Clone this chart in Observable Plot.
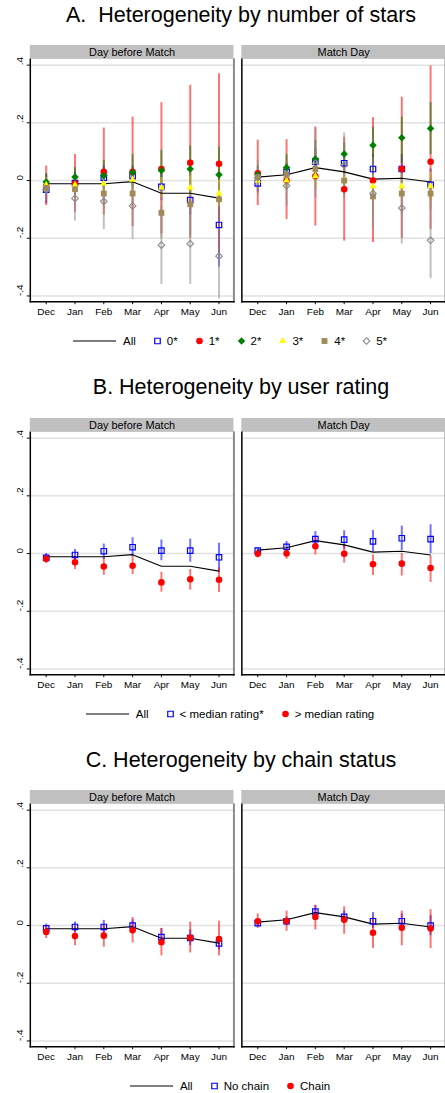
<!DOCTYPE html>
<html>
<head>
<meta charset="utf-8">
<script src="https://cdn.jsdelivr.net/npm/d3@7"></script>
<script src="https://cdn.jsdelivr.net/npm/@observablehq/plot@0.6"></script>
<style>
  html, body { margin: 0; padding: 0; background: #fff; }
  #page { position: relative; width: 445px; height: 1093px; overflow: hidden;
          font-family: "Liberation Sans", Arial, Helvetica, sans-serif; color: #000; }
  .title { position: absolute; left: 0; width: 482px; text-align: center; font-size: 21.5px;
           line-height: 21.5px; white-space: pre; }
  .chart { position: absolute; left: 0; }
  .chart svg { display: block; }
  .legend { position: absolute; left: 0; width: 460px; height: 14px; display: flex; justify-content: center;
            align-items: center; font-size: 11.5px; line-height: 14px; white-space: nowrap; }
  .legend .item { display: flex; align-items: center; margin: 0 9px; }
  .legend svg { display: block; margin-right: 6px; overflow: visible; }
  .legend .item.line svg { margin-right: 7px; }
</style>
</head>
<body>
<div id="page"></div>
<script>
// ---- data -----------------------------------------------------------------
const months = ["Dec", "Jan", "Feb", "Mar", "Apr", "May", "Jun"];
const facets = ["Day before Match", "Match Day"];
const yTicks = [-0.4, -0.2, 0, 0.2, 0.4];

// average effect (same in every panel)
const allBefore = [-0.011, -0.011, -0.011, -0.004, -0.044, -0.044, -0.061];
const allMatch  = [0.012, 0.020, 0.045, 0.030, 0.005, 0.008, -0.005];

// Panel A: by number of stars, [estimate, lower, upper] per month
const star0Before = [[-0.032,-0.08,0.02],[-0.009,-0.05,0.03],[0.010,-0.03,0.05],[0.015,-0.02,0.05],[-0.022,-0.07,0.03],[-0.068,-0.12,-0.02],[-0.154,-0.30,-0.01]];
const star1Before = [[-0.020,-0.087,0.05],[-0.010,-0.11,0.09],[0.030,-0.12,0.182],[0.030,-0.16,0.22],[0.040,-0.185,0.27],[0.062,-0.20,0.33],[0.058,-0.25,0.37]];
const star2Before = [[-0.005,-0.03,0.025],[0.012,-0.02,0.045],[0.017,-0.03,0.07],[0.028,-0.03,0.09],[0.035,-0.035,0.105],[0.040,-0.04,0.12],[0.020,-0.075,0.115]];
const star3Before = [[-0.015,-0.04,0.01],[-0.015,-0.04,0.01],[-0.010,-0.04,0.02],[0.003,-0.03,0.035],[-0.025,-0.06,0.01],[-0.025,-0.065,0.015],[-0.045,-0.09,0.0]];
const star4Before = [[-0.025,-0.05,0.0],[-0.030,-0.06,0.0],[-0.045,-0.08,-0.01],[-0.045,-0.09,0.0],[-0.112,-0.20,-0.03],[-0.082,-0.19,0.03],[-0.065,-0.12,-0.01]];
const star5Before = [[-0.032,-0.07,0.005],[-0.062,-0.14,0.015],[-0.072,-0.17,0.03],[-0.088,-0.205,0.03],[-0.224,-0.36,-0.09],[-0.219,-0.36,-0.08],[-0.262,-0.41,-0.12]];

const star0Match = [[-0.010,-0.04,0.02],[0.030,0.0,0.06],[0.065,0.02,0.11],[0.060,0.02,0.10],[0.040,-0.01,0.09],[0.040,-0.01,0.09],[-0.015,-0.07,0.04]];
const star1Match = [[0.025,-0.087,0.14],[0.0,-0.135,0.142],[0.015,-0.158,0.186],[-0.030,-0.21,0.15],[0.0,-0.215,0.218],[0.040,-0.20,0.289],[0.065,-0.17,0.397]];
const star2Match = [[0.020,-0.01,0.05],[0.045,0.0,0.09],[0.075,0.01,0.14],[0.092,0.05,0.13],[0.122,0.03,0.185],[0.148,0.06,0.22],[0.180,0.09,0.27]];
const star3Match = [[0.0,-0.03,0.03],[0.0,-0.03,0.03],[0.015,-0.02,0.05],[0.0,-0.04,0.04],[-0.020,-0.06,0.02],[-0.020,-0.06,0.02],[-0.020,-0.07,0.03]];
const star4Match = [[0.012,-0.02,0.04],[0.020,-0.03,0.07],[0.040,-0.03,0.11],[0.0,-0.05,0.05],[-0.055,-0.13,0.02],[-0.045,-0.12,0.03],[-0.045,-0.10,0.01]];
const star5Match = [[0.010,-0.05,0.07],[-0.018,-0.09,0.05],[0.060,-0.06,0.18],[0.053,-0.06,0.165],[-0.045,-0.17,0.08],[-0.095,-0.22,0.03],[-0.207,-0.34,-0.07]];

// Panel B: by user rating
const lowRatingBefore  = [[-0.015,-0.03,0.0],[-0.005,-0.025,0.014],[0.008,-0.02,0.033],[0.022,-0.01,0.055],[0.010,-0.025,0.047],[0.010,-0.03,0.05],[-0.013,-0.06,0.036]];
const highRatingBefore = [[-0.018,-0.035,-0.005],[-0.030,-0.055,-0.01],[-0.045,-0.075,-0.015],[-0.042,-0.073,-0.01],[-0.100,-0.134,-0.065],[-0.089,-0.127,-0.055],[-0.091,-0.135,-0.05]];
const lowRatingMatch   = [[0.010,0.0,0.02],[0.023,0.005,0.042],[0.050,0.03,0.076],[0.048,0.015,0.079],[0.042,0.005,0.08],[0.053,0.01,0.095],[0.050,0.0,0.10]];
const highRatingMatch  = [[-0.001,-0.015,0.01],[0.0,-0.02,0.018],[0.025,-0.005,0.055],[-0.001,-0.033,0.03],[-0.037,-0.076,-0.005],[-0.035,-0.078,0.0],[-0.050,-0.10,-0.01]];

// Panel C: by chain status
const noChainBefore = [[-0.010,-0.025,0.005],[-0.005,-0.025,0.012],[-0.005,-0.03,0.018],[0.0,-0.02,0.02],[-0.040,-0.065,-0.01],[-0.043,-0.07,-0.015],[-0.062,-0.085,-0.04]];
const chainBefore   = [[-0.022,-0.045,-0.003],[-0.036,-0.07,-0.005],[-0.035,-0.075,0.0],[-0.016,-0.06,0.028],[-0.058,-0.105,-0.01],[-0.042,-0.095,0.012],[-0.047,-0.105,0.015]];
const noChainMatch  = [[0.008,-0.005,0.02],[0.015,0.0,0.03],[0.048,0.03,0.07],[0.030,0.01,0.05],[0.015,-0.01,0.045],[0.015,-0.01,0.04],[0.0,-0.035,0.035]];
const chainMatch    = [[0.015,-0.01,0.04],[0.016,-0.02,0.05],[0.030,-0.015,0.07],[0.020,-0.03,0.065],[-0.025,-0.08,0.03],[-0.008,-0.07,0.05],[-0.010,-0.08,0.055]];

// ---- marker styles ----------------------------------------------------------
const styles = {
  blueSquare:  {symbol: "square",   r: 3.1, fill: "none",    stroke: "#0000ff", sw: 1.2, bar: "#0000ff"},
  redDot:      {symbol: "circle",   r: 3.3, fill: "#ff0000", stroke: "none",    sw: 0,   bar: "#ff0000"},
  greenDiam:   {symbol: "diamond2", r: 3.4, fill: "#007f00", stroke: "none",    sw: 0,   bar: "#007f00"},
  yellowTri:   {symbol: "triangle", r: 2.6, fill: "#ffff00", stroke: "none",    sw: 0,   bar: "#e8e800"},
  tanSquare:   {symbol: "square",   r: 3.3, fill: "#a08a55", stroke: "none",    sw: 0,   bar: "#a08a55"},
  grayDiam:    {symbol: "diamond2", r: 3.0, fill: "none",    stroke: "#888888", sw: 1.1, bar: "#8c8c8c"}
};

function rowsOf(label, before, match) {
  return [[facets[0], before], [facets[1], match]].flatMap(([facet, vals]) =>
    vals.map(([est, lo, hi], i) => ({facet, month: months[i], series: label, est, lo, hi})));
}
const allRows = [[facets[0], allBefore], [facets[1], allMatch]].flatMap(([facet, vals]) =>
  vals.map((est, i) => ({facet, month: months[i], est})));

const fmt = d => d === 0 ? "0" : String(d).replace("0.", ".");
const yDomain = [-0.42, 0.42];
const stripH = 0.0482;

function panel(series, top) {
  const marks = [
    Plot.gridY({ticks: yTicks, stroke: "#e2e2e2", strokeOpacity: 1, strokeWidth: 1.5}),
    Plot.rect(facets, {fx: d => d, y1: yDomain[1], y2: yDomain[1] + stripH, fill: "#c0c0c0"}),
    Plot.text(facets, {fx: d => d, y: yDomain[1] + stripH / 2, text: d => d, fontSize: 11, fill: "#000"}),
    Plot.frame({anchor: "right", stroke: "#8a8a8a", strokeWidth: 2}),
    Plot.frame({anchor: "left", stroke: "#000", strokeWidth: 1.5}),
    Plot.frame({anchor: "bottom", stroke: "#000", strokeWidth: 1.5}),
    Plot.axisY({ticks: yTicks, tickSize: 3, tickFormat: () => "", label: null}),
    Plot.text(yTicks, {fx: () => facets[0], y: d => d, text: fmt, frameAnchor: "left", dx: -11,
                       rotate: -90, fontSize: 10, fill: "#000"}),
    Plot.axisX({tickSize: 3, tickPadding: 3, fontSize: 10, label: null})
  ];
  for (const s of series) {
    marks.push(Plot.ruleX(s.rows, {fx: "facet", x: "month", y1: "lo", y2: "hi",
      stroke: s.style.bar, strokeWidth: 2, strokeOpacity: 0.55}));
  }
  marks.push(Plot.line(allRows, {fx: "facet", x: "month", y: "est", stroke: "#000", strokeWidth: 1.2}));
  for (const s of series) {
    const st = s.style;
    marks.push(Plot.dot(s.rows, {fx: "facet", x: "month", y: "est", symbol: st.symbol, r: st.r,
      fill: st.fill, stroke: st.stroke, strokeWidth: st.sw}));
  }
  const chart = Plot.plot({
    width: 448, height: 288,
    marginLeft: 30, marginRight: 0, marginTop: 19, marginBottom: 25,
    style: {fontFamily: "'Liberation Sans', Arial, sans-serif", fontSize: "10px", background: "transparent", color: "#000"},
    fx: {domain: facets, paddingInner: 0.038, paddingOuter: 0, axis: null, label: null},
    x: {type: "point", domain: months, padding: 0.5, label: null},
    y: {domain: yDomain, label: null},
    marks
  });
  const div = document.createElement("div");
  div.className = "chart";
  div.style.top = top + "px";
  div.appendChild(chart);
  return div;
}

const symbolTypes = {square: d3.symbolSquare, circle: d3.symbolCircle, diamond2: d3.symbolDiamond2, triangle: d3.symbolTriangle};

function legend(items, centerY) {
  const div = document.createElement("div");
  div.className = "legend";
  div.style.top = (centerY - 7) + "px";
  const lineItem = document.createElement("div");
  lineItem.className = "item line";
  lineItem.innerHTML = `<svg width="43" height="14"><line x1="0" x2="43" y1="7" y2="7" stroke="#000" stroke-width="1.2"/></svg><span>All</span>`;
  div.appendChild(lineItem);
  for (const {label, style: st} of items) {
    const path = d3.symbol(symbolTypes[st.symbol], Math.PI * st.r * st.r)();
    const it = document.createElement("div");
    it.className = "item";
    it.innerHTML = `<svg width="7" height="14"><path transform="translate(3.5,7)" d="${path}" fill="${st.fill}" stroke="${st.stroke}" stroke-width="${st.sw}"/></svg><span></span>`;
    it.querySelector("span").textContent = label;
    div.appendChild(it);
  }
  return div;
}

function title(text, top) {
  const div = document.createElement("div");
  div.className = "title";
  div.style.top = top + "px";
  div.textContent = text;
  return div;
}

const page = document.getElementById("page");

// Panel A
const seriesA = [
  {label: "0*", style: styles.blueSquare, rows: rowsOf("0*", star0Before, star0Match)},
  {label: "1*", style: styles.redDot,     rows: rowsOf("1*", star1Before, star1Match)},
  {label: "2*", style: styles.greenDiam,  rows: rowsOf("2*", star2Before, star2Match)},
  {label: "3*", style: styles.yellowTri,  rows: rowsOf("3*", star3Before, star3Match)},
  {label: "4*", style: styles.tanSquare,  rows: rowsOf("4*", star4Before, star4Match)},
  {label: "5*", style: styles.grayDiam,   rows: rowsOf("5*", star5Before, star5Match)}
];
page.appendChild(title("A.  Heterogeneity by number of stars", 5));
page.appendChild(panel(seriesA, 40));
page.appendChild(legend(seriesA, 340.5));

// Panel B
const seriesB = [
  {label: "< median rating*", style: styles.blueSquare, rows: rowsOf("low", lowRatingBefore, lowRatingMatch)},
  {label: "> median rating",  style: styles.redDot,     rows: rowsOf("high", highRatingBefore, highRatingMatch)}
];
page.appendChild(title("B. Heterogeneity by user rating", 377));
page.appendChild(panel(seriesB, 413));
page.appendChild(legend(seriesB, 714));

// Panel C
const seriesC = [
  {label: "No chain", style: styles.blueSquare, rows: rowsOf("nochain", noChainBefore, noChainMatch)},
  {label: "Chain",    style: styles.redDot,     rows: rowsOf("chain", chainBefore, chainMatch)}
];
page.appendChild(title("C. Heterogeneity by chain status", 750));
page.appendChild(panel(seriesC, 785));
page.appendChild(legend(seriesC, 1086));
</script>
</body>
</html>
